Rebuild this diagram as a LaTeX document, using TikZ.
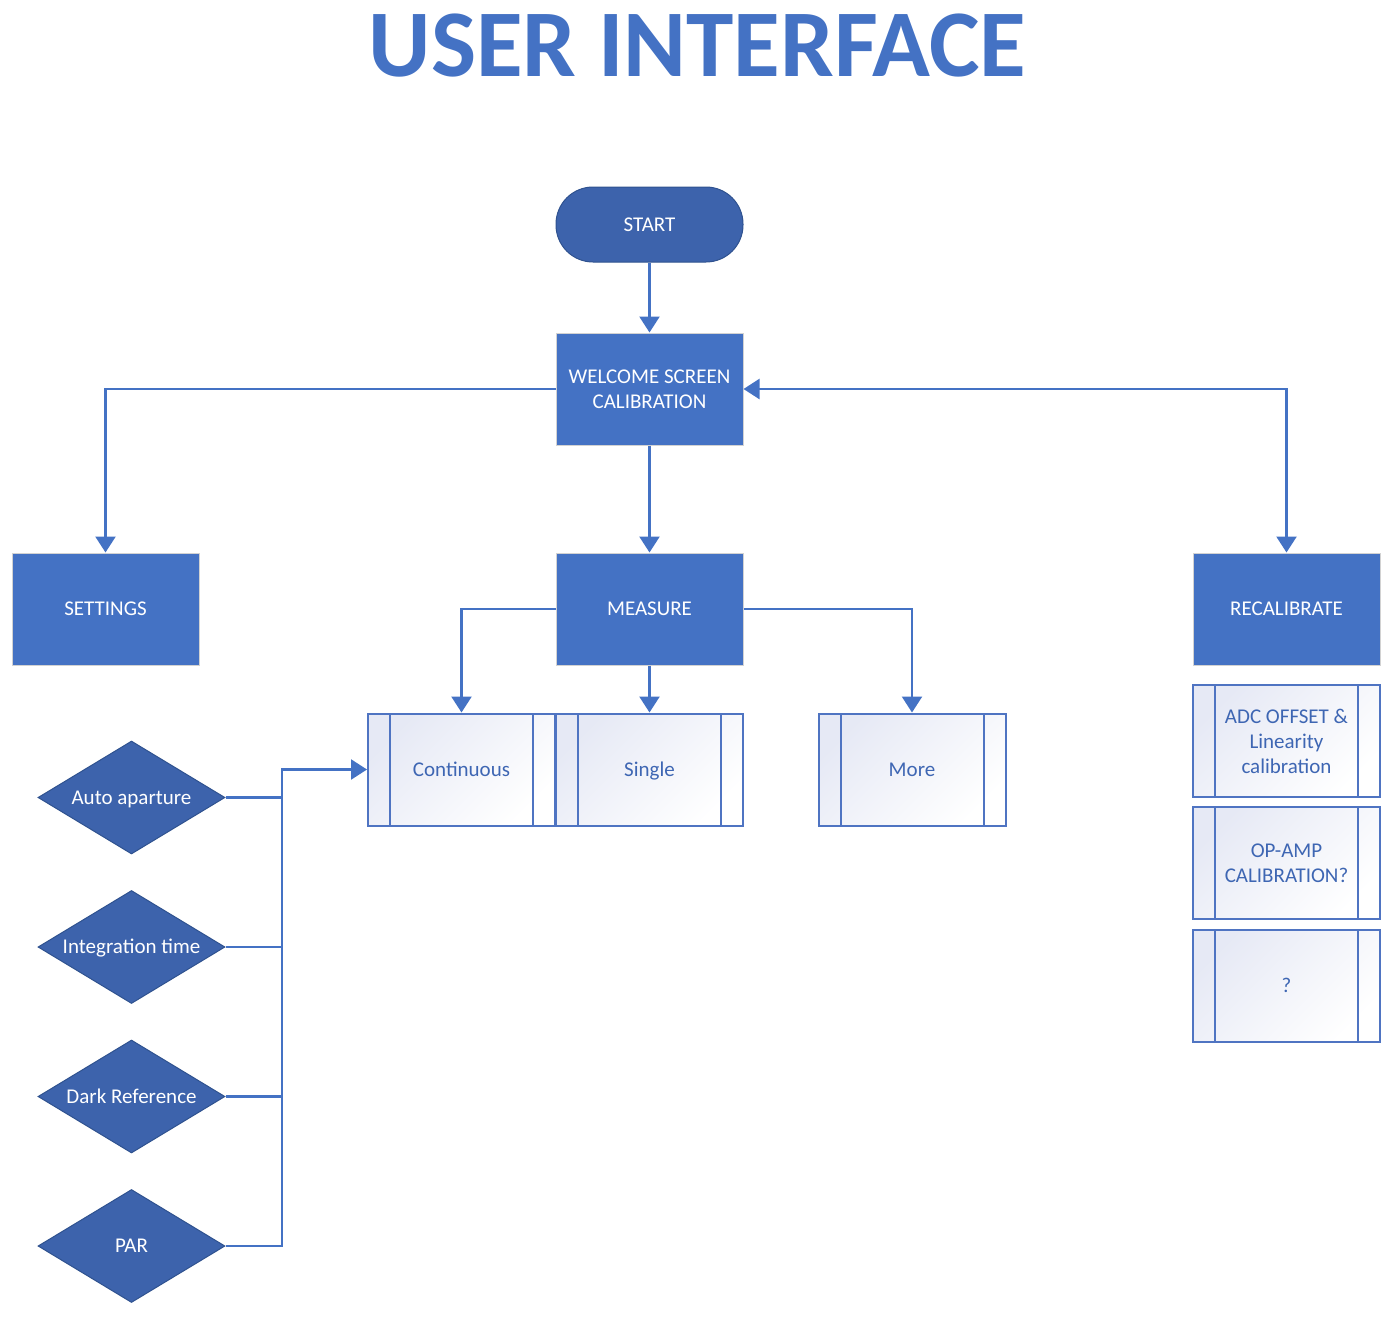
\documentclass[tikz,border=0pt]{standalone}
\usepackage{fontspec}
\setmainfont{Carlito}
\usetikzlibrary{arrows.meta,shapes.geometric,calc}
\definecolor{mainblue}{HTML}{4472C4}
\definecolor{darkblue}{HTML}{3D63AC}
\definecolor{darkedge}{HTML}{2F528F}
\definecolor{procedge}{HTML}{4F74C2}
\definecolor{proctext}{HTML}{3E66B3}
\definecolor{procshade}{HTML}{E6E9F5}
\tikzset{
  txt/.style={font=\fontsize{21}{25}\selectfont, align=center},
  oneline/.style={text height=13.5pt, text depth=0pt},
  bluebox/.style={txt, rectangle, fill=mainblue, draw=gray!35, line width=1pt, text=white,
    minimum width=187pt, minimum height=112pt, inner sep=0pt},
  termbox/.style={txt, oneline, rectangle, rounded corners=37pt, fill=darkblue, draw=darkedge, line width=1pt,
    text=white, minimum width=187pt, minimum height=75pt, inner sep=0pt},
  decbox/.style={diamond, fill=darkblue, draw=darkedge, line width=1pt,
    minimum width=187pt, minimum height=113pt, inner sep=0pt,
    label={[txt, oneline, text=white, inner sep=0pt]center:#1}},
  procbox/.style={txt, rectangle, draw=procedge, line width=2pt, text=proctext,
    top color=procshade, bottom color=white, shading angle=45,
    minimum width=187pt, minimum height=112pt, inner sep=0pt,
    path picture={
      \draw[procedge, line width=2pt]
        ([xshift=22pt]path picture bounding box.north west) -- ([xshift=22pt]path picture bounding box.south west)
        ([xshift=-22pt]path picture bounding box.north east) -- ([xshift=-22pt]path picture bounding box.south east);
    }},
  conn/.style={draw=mainblue, line width=2.4pt},
  arr/.style={conn, -{Triangle[length=16pt,width=20pt]}},
  dblarr/.style={conn, {Triangle[length=16pt,width=20pt]}-{Triangle[length=16pt,width=20pt]}}
}
\begin{document}
\begin{tikzpicture}[x=1pt,y=-1pt]
\useasboundingbox (0,0) rectangle (1393,1320);

\node[anchor=base, text=mainblue, font=\fontsize{95.5}{100}\selectfont\bfseries, inner sep=0pt] (title) at (697.5,76) {USER INTERFACE};

\node[termbox] (start) at (649.5,224.5) {START};
\node[bluebox] (welcome) at (649.5,389) {WELCOME SCREEN\\CALIBRATION};
\node[bluebox, oneline] (settings) at (105.5,609) {SETTINGS};
\node[bluebox, oneline] (measure) at (649.5,609) {MEASURE};
\node[bluebox, oneline] (recal) at (1286.5,609) {RECALIBRATE};

\node[procbox, oneline] (cont) at (461.5,769.5) {Continuous};
\node[procbox, oneline] (single) at (649.5,769.5) {Single};
\node[procbox, oneline] (more) at (912,769.5) {More};

\node[procbox] (adc) at (1286.5,741) {ADC OFFSET \&\\Linearity\\calibration};
\node[procbox] (opamp) at (1286.5,863) {OP-AMP\\CALIBRATION?};
\node[procbox, oneline] (unk) at (1286.5,985.5) {?};

\node[decbox={Auto aparture}] (auto) at (131.5,797.5) {};
\node[decbox={Integration time}] (integ) at (131.5,947) {};
\node[decbox={Dark Reference}] (dark) at (131.5,1096.5) {};
\node[decbox={PAR}] (par) at (131.5,1246) {};

\coordinate (bus) at (282,769.5);

\draw[arr] (start) -- (welcome);
\draw[arr] (welcome.west) -| (settings.north);
\draw[arr] (welcome) -- (measure);
\draw[dblarr] (welcome.east) -| (recal.north);
\draw[arr] (measure.west) -| (cont.north);
\draw[arr] (measure) -- (single);
\draw[arr] (measure.east) -| (more.north);

\draw[arr] (par.east) -| (bus) -- (cont.west);
\draw[conn] (auto.east) -- (auto.east -| bus);
\draw[conn] (integ.east) -- (integ.east -| bus);
\draw[conn] (dark.east) -- (dark.east -| bus);
\end{tikzpicture}
\end{document}
